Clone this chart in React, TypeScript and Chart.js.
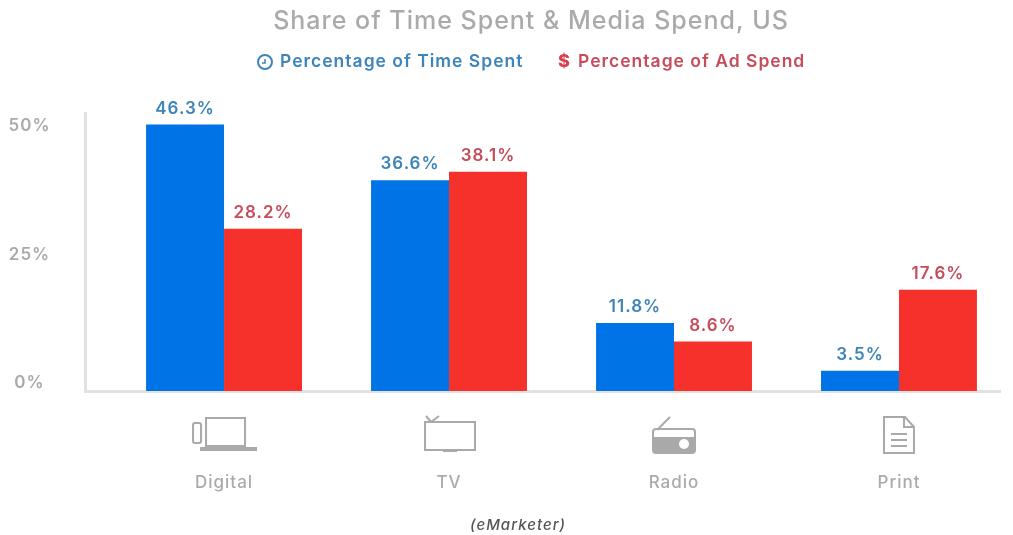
import React, { useEffect, useRef } from "react";
import { Chart, registerables } from "chart.js";

Chart.register(...registerables);

const categories = ["Digital", "TV", "Radio", "Print"];
const timeSpent = [46.3, 36.6, 11.8, 3.5];
const adSpend = [28.2, 38.1, 8.6, 17.6];
const seriesNames = ["Percentage of Time Spent", "Percentage of Ad Spend"];
const percentTicks = [0, 25, 50];

const FONT = "Inter, 'Open Sans', sans-serif";
const BLUE = "#0073e6";
const RED = "#f6302b";
const BLUE_TEXT = "#3d84b8";
const RED_TEXT = "#c64c5c";
const GREY_TEXT = "#aaaaaa";
const ICON = "#a9a9a9";
const AXIS = "#e2e2e2";

type Ctx = CanvasRenderingContext2D;

function line(ctx: Ctx, x1: number, y1: number, x2: number, y2: number) {
  ctx.beginPath();
  ctx.moveTo(x1, y1);
  ctx.lineTo(x2, y2);
  ctx.stroke();
}

// Pictograms under the category axis, drawn around (cx, cy).
function drawLaptop(ctx: Ctx, cx: number, cy: number) {
  ctx.lineWidth = 2;
  ctx.strokeRect(cx - 18, cy - 17, 39, 28);
  ctx.fillRect(cx - 24, cy + 12, 57, 4);
  ctx.beginPath();
  ctx.roundRect(cx - 31, cy - 12, 8, 20, 2);
  ctx.stroke();
}

function drawTv(ctx: Ctx, cx: number, cy: number) {
  ctx.lineWidth = 2;
  ctx.strokeRect(cx - 24, cy - 13, 50, 28);
  line(ctx, cx - 18, cy - 13, cx - 23, cy - 19);
  line(ctx, cx - 18, cy - 13, cx - 10, cy - 19);
  ctx.fillRect(cx - 6, cy + 15, 14, 2);
}

function drawRadio(ctx: Ctx, cx: number, cy: number) {
  ctx.lineWidth = 2;
  line(ctx, cx - 17, cy - 5, cx - 4, cy - 18);
  ctx.beginPath();
  ctx.roundRect(cx - 21, cy - 6, 42, 24, 3);
  ctx.stroke();
  ctx.fillRect(cx - 21, cy + 2, 42, 16);
  ctx.fillStyle = "#ffffff";
  ctx.beginPath();
  ctx.arc(cx + 10, cy + 9, 5, 0, Math.PI * 2);
  ctx.fill();
  ctx.fillStyle = ICON;
}

function drawDocument(ctx: Ctx, cx: number, cy: number) {
  ctx.lineWidth = 2;
  ctx.beginPath();
  ctx.moveTo(cx - 15, cy - 18);
  ctx.lineTo(cx + 6, cy - 18);
  ctx.lineTo(cx + 15, cy - 8);
  ctx.lineTo(cx + 15, cy + 18);
  ctx.lineTo(cx - 15, cy + 18);
  ctx.closePath();
  ctx.stroke();
  ctx.beginPath();
  ctx.moveTo(cx + 5, cy - 18);
  ctx.lineTo(cx + 5, cy - 8);
  ctx.lineTo(cx + 15, cy - 8);
  ctx.stroke();
  for (const dy of [-1, 5, 11]) line(ctx, cx - 8, cy + dy, cx + 8, cy + dy);
}

const iconPainters = [drawLaptop, drawTv, drawRadio, drawDocument];

const decorations = {
  id: "decorations",
  // All chart text is tracked out slightly
  beforeDraw(chart: Chart) {
    (chart.ctx as any).letterSpacing = "1px";
  },
  afterDatasetsDraw(chart: Chart) {
    const ctx = chart.ctx as Ctx;
    const x = chart.scales.x;
    const bottom = chart.chartArea.bottom;
    ctx.save();

    // Value labels above each bar
    ctx.textAlign = "center";
    ctx.textBaseline = "alphabetic";
    ctx.font = `600 17px ${FONT}`;
    chart.data.datasets.forEach((ds: any, di: number) => {
      ctx.fillStyle = di === 0 ? BLUE_TEXT : RED_TEXT;
      chart.getDatasetMeta(di).data.forEach((bar: any, i: number) => {
        ctx.fillText(`${ds.data[i].y}%`, bar.x, bar.y - 11);
      });
    });

    // Pictograms
    ctx.strokeStyle = ICON;
    ctx.fillStyle = ICON;
    categories.forEach((_, i) => {
      iconPainters[i](ctx, x.getPixelForValue(i), bottom + 44);
    });

    // Series key
    const keyY = 62;
    ctx.textBaseline = "middle";
    ctx.textAlign = "left";
    ctx.font = `600 17.5px ${FONT}`;
    ctx.strokeStyle = BLUE_TEXT;
    ctx.lineWidth = 2;
    ctx.beginPath();
    ctx.arc(265, keyY, 7, 0, Math.PI * 2);
    ctx.stroke();
    ctx.lineWidth = 1.5;
    ctx.beginPath();
    ctx.moveTo(265, keyY - 3);
    ctx.lineTo(265, keyY + 1);
    ctx.lineTo(262, keyY + 1);
    ctx.stroke();
    ctx.fillStyle = BLUE_TEXT;
    ctx.fillText(seriesNames[0], 280, keyY);
    ctx.fillStyle = "#d8404e";
    ctx.font = `800 18px ${FONT}`;
    ctx.fillText("$", 558, keyY);
    ctx.fillStyle = RED_TEXT;
    ctx.font = `600 17.5px ${FONT}`;
    ctx.fillText(seriesNames[1], 578, keyY);

    // Source note
    ctx.fillStyle = "#555555";
    ctx.textAlign = "center";
    ctx.font = `italic 500 15px ${FONT}`;
    ctx.fillText("(eMarketer)", 518, 525);
    ctx.restore();
  },
};

export default function App() {
  const ref = useRef<HTMLCanvasElement>(null);

  useEffect(() => {
    document.body.style.margin = "0";
    const chart = new Chart(ref.current!, {
      type: "bar",
      data: {
        datasets: [
          {
            label: seriesNames[0],
            data: timeSpent.map((y, x) => ({ x, y })),
            backgroundColor: BLUE,
            yAxisID: "y",
          },
          {
            label: seriesNames[1],
            data: adSpend.map((y, x) => ({ x, y })),
            backgroundColor: RED,
            yAxisID: "y",
          },
        ],
      },
      plugins: [decorations],
      options: {
        animation: false,
        responsive: false,
        layout: { padding: { left: 62, right: 13, top: 0, bottom: 0 } },
        plugins: {
          legend: { display: false },
          tooltip: { enabled: false },
          title: {
            display: true,
            text: "Share of Time Spent & Media Spend, US",
            color: GREY_TEXT,
            font: { family: FONT, size: 25, weight: "500" },
            padding: { top: 6, bottom: 77 },
          },
        },
        scales: {
          x: {
            type: "linear",
            min: -0.618,
            max: 3.449,
            offset: false,
            grid: { display: false, drawTicks: false },
            border: { color: AXIS, width: 3 },
            afterFit: (scale: any) => {
              scale.height = 144;
            },
            afterBuildTicks: (scale: any) => {
              scale.ticks = categories.map((_, value) => ({ value }));
            },
            ticks: {
              padding: 82,
              maxRotation: 0,
              autoSkip: false,
              color: GREY_TEXT,
              font: { family: FONT, size: 17, weight: "500" },
              callback: (v: any) => categories[v] ?? "",
            },
          },
          y: {
            type: "linear",
            position: "left",
            display: false,
            min: 0,
            max: 48.3,
          },
          // The percent labels run on their own axis, lifted off the baseline
          percent: {
            type: "linear",
            position: "left",
            min: -1.56,
            max: 52.53,
            grid: { display: false, drawTicks: false },
            border: { color: AXIS, width: 3 },
            afterFit: (scale: any) => {
              scale.width = 23;
            },
            afterBuildTicks: (scale: any) => {
              scale.ticks = percentTicks.map((value) => ({ value }));
            },
            ticks: {
              mirror: true,
              crossAlign: "center",
              padding: -75,
              color: GREY_TEXT,
              font: { family: FONT, size: 17, weight: "600" },
              callback: (v: any) => `${v}%`,
            },
          },
        },
        datasets: {
          bar: { categoryPercentage: 0.693, barPercentage: 1, grouped: true },
        },
      } as any,
    });
    return () => chart.destroy();
  }, []);

  return (
    <div style={{ width: 1013, height: 535 }}>
      <canvas ref={ref} width={1013} height={535} style={{ display: "block" }} />
    </div>
  );
}
